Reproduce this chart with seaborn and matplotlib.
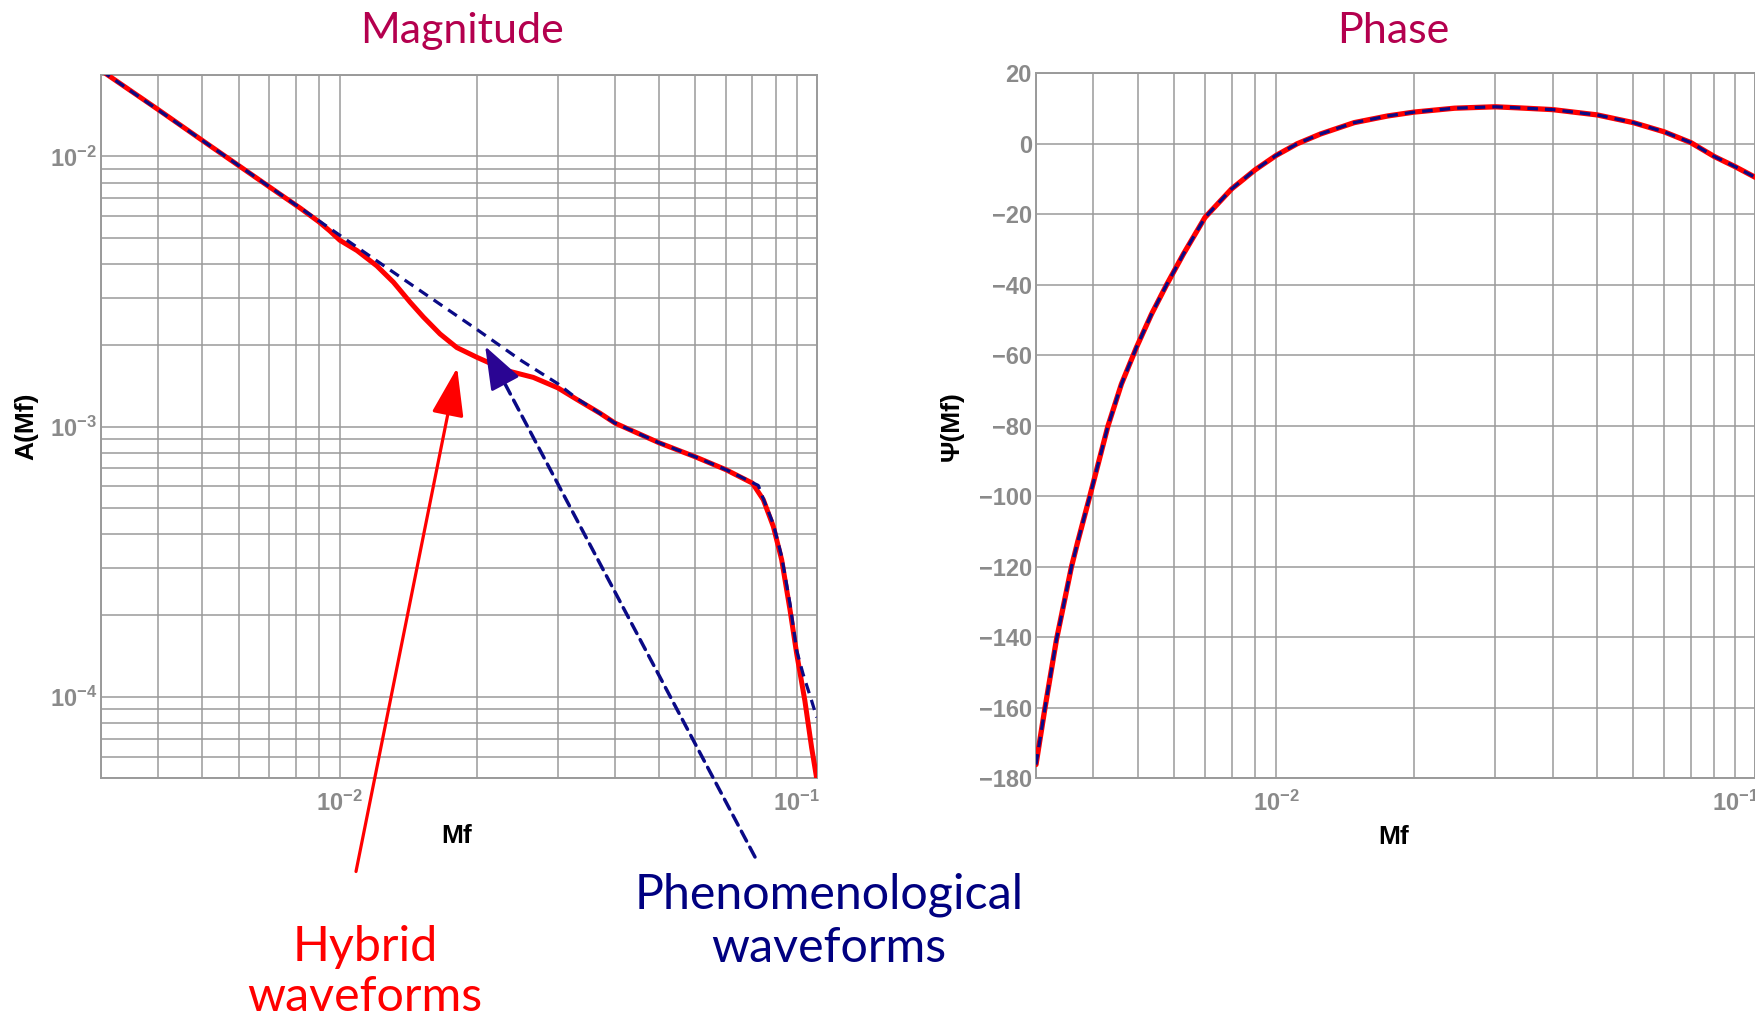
import matplotlib
matplotlib.use("Agg")
import matplotlib.pyplot as plt
import matplotlib.ticker as mticker
import seaborn as sns
from matplotlib import font_manager

# ---------------- data ----------------
mag_hyb_f = [0.0030, 0.0040, 0.0050, 0.0060, 0.0070, 0.0082, 0.0090, 0.0095, 0.0100, 0.0109,
             0.01205, 0.0131, 0.01426, 0.01524, 0.01657, 0.01803, 0.0200, 0.0232, 0.0265, 0.0300,
             0.0330, 0.0371, 0.0400, 0.0500, 0.0600, 0.0700, 0.0800, 0.0845, 0.0889, 0.0927,
             0.0967, 0.1000, 0.1042, 0.1078, 0.1110]
mag_hyb_A = [2.08e-2, 1.49e-2, 1.145e-2, 9.25e-3, 7.72e-3, 6.42e-3, 5.72e-3, 5.30e-3, 4.89e-3, 4.48e-3,
             3.93e-3, 3.42e-3, 2.88e-3, 2.54e-3, 2.20e-3, 1.96e-3, 1.80e-3, 1.61e-3, 1.52e-3, 1.39e-3,
             1.26e-3, 1.12e-3, 1.03e-3, 8.70e-4, 7.72e-4, 6.92e-4, 6.17e-4, 5.36e-4, 4.26e-4, 3.21e-4,
             2.09e-4, 1.44e-4, 9.66e-5, 6.48e-5, 4.8e-5]

mag_phen_f = [0.0030, 0.0040, 0.0050, 0.0060, 0.0070, 0.0080, 0.0090, 0.0100, 0.0125, 0.0150,
              0.0200, 0.0250, 0.0300, 0.0330, 0.0400, 0.0500, 0.0600, 0.0700, 0.0800, 0.0824,
              0.0845, 0.0889, 0.0927, 0.0967, 0.1000, 0.1033, 0.1078, 0.1106]
mag_phen_A = [2.08e-2, 1.486e-2, 1.145e-2, 9.26e-3, 7.73e-3, 6.62e-3, 5.77e-3, 5.10e-3, 3.93e-3, 3.18e-3,
              2.28e-3, 1.75e-3, 1.44e-3, 1.27e-3, 1.03e-3, 8.70e-4, 7.72e-4, 6.92e-4, 6.20e-4, 6.05e-4,
              5.40e-4, 4.35e-4, 3.30e-4, 2.20e-4, 1.48e-4, 1.21e-4, 9.66e-5, 8.38e-5]

ph_f = [0.0030, 0.003134, 0.003324, 0.003584, 0.003700, 0.003925, 0.004303, 0.004603, 0.004963, 0.005355,
        0.005774, 0.006281, 0.0070, 0.0080, 0.0090, 0.0100, 0.01111, 0.0125, 0.01479, 0.0175,
        0.0200, 0.02447, 0.0300, 0.03367, 0.0400, 0.0500, 0.0600, 0.0700, 0.0800, 0.0900,
        0.1000, 0.1105]
ph_hyb = [-176.1, -160.5, -140.7, -120.0, -112.8, -100.2, -80.1, -68.2, -57.8, -48.3,
          -40.0, -31.3, -20.9, -12.8, -7.4, -3.3, 0.0, 2.8, 6.0, 7.9,
          9.0, 10.1, 10.5, 10.2, 9.7, 8.2, 6.0, 3.4, 0.35, -3.6,
          -6.5, -9.5]
ph_phen = [-176.1, -160.5, -140.7, -120.0, -112.8, -100.2, -80.1, -68.2, -57.8, -48.3,
           -40.0, -31.3, -20.9, -12.8, -7.4, -3.3, 0.0, 2.8, 6.0, 7.9,
           9.0, 10.1, 10.5, 10.2, 9.7, 8.2, 6.0, 3.4, 0.35, -3.6,
           -6.5, -9.5]

phase_yticks = [-180, -160, -140, -120, -100, -80, -60, -40, -20, 0, 20]

titles = ["Magnitude", "Phase"]
ylabels = ["A(Mf)", "\u03a8(Mf)"]
xlabel = "Mf"
hyb_text = "Hybrid\nwaveforms"
phen_text = "Phenomenological\nwaveforms"

# ---------------- style ----------------
sns.set_theme(style="white")
avail = {f.name for f in font_manager.fontManager.ttflist}
tick_family = ["Liberation Sans Narrow", "Liberation Sans", "DejaVu Sans"] if "Liberation Sans Narrow" in avail \
    else ["Liberation Sans", "DejaVu Sans"]
plt.rcParams["font.family"] = ["Liberation Sans", "DejaVu Sans"]
plt.rcParams["axes.unicode_minus"] = True

RED = "#ff0000"
NAVY = "#0a0a86"
HEAD_BLUE = "#2a0593"
TITLE_C = "#b4004e"
GRID_C = "#9a9a9a"
TICK_C = "#8a8a8a"
ANN_FONT = ["Lato", "DejaVu Sans"]

W, H = 1756, 1023
fig = plt.figure(figsize=(W / 100, H / 100), dpi=100)
fig.patch.set_facecolor("white")

def px_rect(x0, y0, x1, y1):
    return [x0 / W, 1 - y1 / H, (x1 - x0) / W, (y1 - y0) / H]

axA = fig.add_axes(px_rect(101, 75, 816.7, 778))
axP = fig.add_axes(px_rect(1036, 73.3, 1755, 778.3))

for ax in (axA, axP):
    ax.set_xscale("log")
axA.set_yscale("log")

# curves
sns.lineplot(x=mag_hyb_f, y=mag_hyb_A, ax=axA, color=RED, lw=3.6, sort=False, estimator=None,
             solid_joinstyle="round", zorder=3)
sns.lineplot(x=mag_phen_f, y=mag_phen_A, ax=axA, color=NAVY, lw=2.3, sort=False, estimator=None,
             linestyle=(0, (3.3, 2.2)), zorder=4)
sns.lineplot(x=ph_f, y=ph_hyb, ax=axP, color=RED, lw=3.8, sort=False, estimator=None,
             solid_joinstyle="round", zorder=3)
sns.lineplot(x=ph_f, y=ph_phen, ax=axP, color=NAVY, lw=2.3, sort=False, estimator=None,
             linestyle=(0, (3.3, 2.2)), zorder=4)

axA.set_xlim(0.0030, 0.1106)
axA.set_ylim(5e-5, 2e-2)
axP.set_xlim(0.0030, 0.1104)
axP.set_ylim(-180, 20)

for ax in (axA, axP):
    ax.xaxis.set_major_locator(mticker.LogLocator(base=10, numticks=10))
    ax.xaxis.set_minor_locator(mticker.LogLocator(base=10, subs=range(2, 10), numticks=20))
    ax.xaxis.set_minor_formatter(mticker.NullFormatter())
axA.yaxis.set_major_locator(mticker.LogLocator(base=10, numticks=10))
axA.yaxis.set_minor_locator(mticker.LogLocator(base=10, subs=range(2, 10), numticks=20))
axA.yaxis.set_minor_formatter(mticker.NullFormatter())
axP.yaxis.set_major_locator(mticker.FixedLocator(phase_yticks))

for ax in (axA, axP):
    ax.grid(True, which="both", color=GRID_C, lw=1.1, zorder=0)
    ax.set_axisbelow(True)
    for s in ax.spines.values():
        s.set_color(GRID_C)
        s.set_linewidth(1.4)
    ax.tick_params(which="both", length=0)
    ax.tick_params(axis="x", which="major", pad=9)
    ax.tick_params(axis="y", which="major", pad=3)
    for lab in ax.get_xticklabels() + ax.get_yticklabels():
        lab.set_family(tick_family)
        lab.set_fontweight("bold")
        lab.set_fontsize(17)
        lab.set_color(TICK_C)

axA.set_xlabel(xlabel, fontsize=19, fontweight="bold", color="black")
axP.set_xlabel(xlabel, fontsize=19, fontweight="bold", color="black")
axA.xaxis.set_label_coords(0.497, -0.066)
axP.xaxis.set_label_coords(0.498, -0.066)
axA.set_ylabel(ylabels[0], fontsize=19, fontweight="bold", color="black")
axP.set_ylabel(ylabels[1], fontsize=19, fontweight="bold", color="black")
axA.yaxis.set_label_coords(-0.087, 0.5)
axP.yaxis.set_label_coords(-0.100, 0.5)

# titles
fig.text(462 / W, 1 - 31 / H, titles[0], ha="center", va="center", fontsize=31,
         color=TITLE_C, family=ANN_FONT)
fig.text(1393 / W, 1 - 31 / H, titles[1], ha="center", va="center", fontsize=31,
         color=TITLE_C, family=ANN_FONT)

# annotation arrows (heads anchored in data coordinates of the magnitude panel)
axA.annotate("", xy=(0.01806, 1.65e-3), xycoords="data",
             xytext=(356 / W, 1 - 871.5 / H), textcoords="figure fraction",
             annotation_clip=False,
             arrowprops=dict(arrowstyle="-|>,head_length=3.0,head_width=1.0", mutation_scale=10,
                             color=RED, lw=2.3, shrinkA=0, shrinkB=0), zorder=6)
axA.annotate("", xy=(0.0208, 1.98e-3), xycoords="data",
             xytext=(755 / W, 1 - 857 / H), textcoords="figure fraction",
             annotation_clip=False,
             arrowprops=dict(arrowstyle="-", color=NAVY, lw=2.5, linestyle=(0, (3.2, 2.0)),
                             shrinkA=0, shrinkB=27), zorder=6)
axA.annotate("", xy=(0.0208, 1.98e-3), xycoords="data",
             xytext=(0.0229, 1.46e-3), textcoords="data",
             annotation_clip=False,
             arrowprops=dict(arrowstyle="-|>,head_length=2.7,head_width=1.0", mutation_scale=10,
                             color=HEAD_BLUE, lw=2.0, shrinkA=0, shrinkB=0), zorder=7)

# annotation texts
fig.text(365 / W, 1 - 972 / H, hyb_text, ha="center", va="center", fontsize=34.8,
         color=RED, family=ANN_FONT, linespacing=1.16)
fig.text(829 / W, 1 - 921 / H, phen_text, ha="center", va="center", fontsize=34.8,
         color="#000080", family=ANN_FONT, linespacing=1.25)

fig.savefig("out.png", dpi=100, facecolor="white")
